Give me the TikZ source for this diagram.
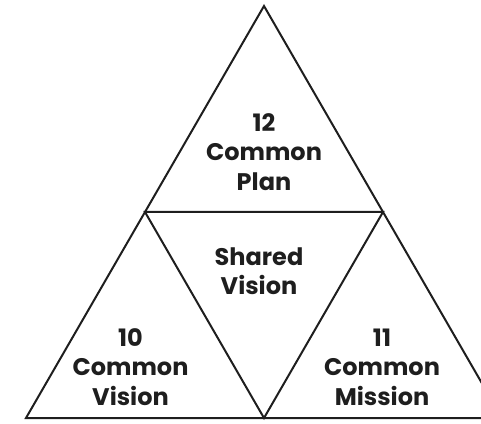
\documentclass[tikz,border=0pt]{standalone}
\usepackage{fontspec}
\setmainfont{Poppins}
\definecolor{ink}{HTML}{1E1E1E}
\begin{document}
\begin{tikzpicture}[x=1pt,y=1pt,
  edge/.style={draw=ink,line width=2pt,line join=miter},
  lbl/.style={text=ink,align=center,font=\fontsize{24}{29.5}\selectfont\bfseries,inner sep=0pt}]
\useasboundingbox (0,0) rectangle (481,423);
% corner and midpoint coordinates of the large triangle
\coordinate (apex) at (264,417);
\coordinate (bl) at (26,5);
\coordinate (br) at (502,5);
\coordinate (ml) at (145,211);
\coordinate (mr) at (383,211);
\coordinate (mb) at (264,5);
% outer triangle and inner inverted triangle
\draw[edge] (apex) -- (br) -- (bl) -- cycle;
\draw[edge] (ml) -- (mr) -- (mb) -- cycle;
% labels
\node[lbl] (plan) at (264,271) {12\\Common\\Plan};
\node[lbl] (shared) at (259,152) {Shared\\Vision};
\node[lbl] (vision) at (130.5,56) {10\\Common\\Vision};
\node[lbl] (mission) at (382,56) {11\\Common\\Mission};
\end{tikzpicture}
\end{document}
